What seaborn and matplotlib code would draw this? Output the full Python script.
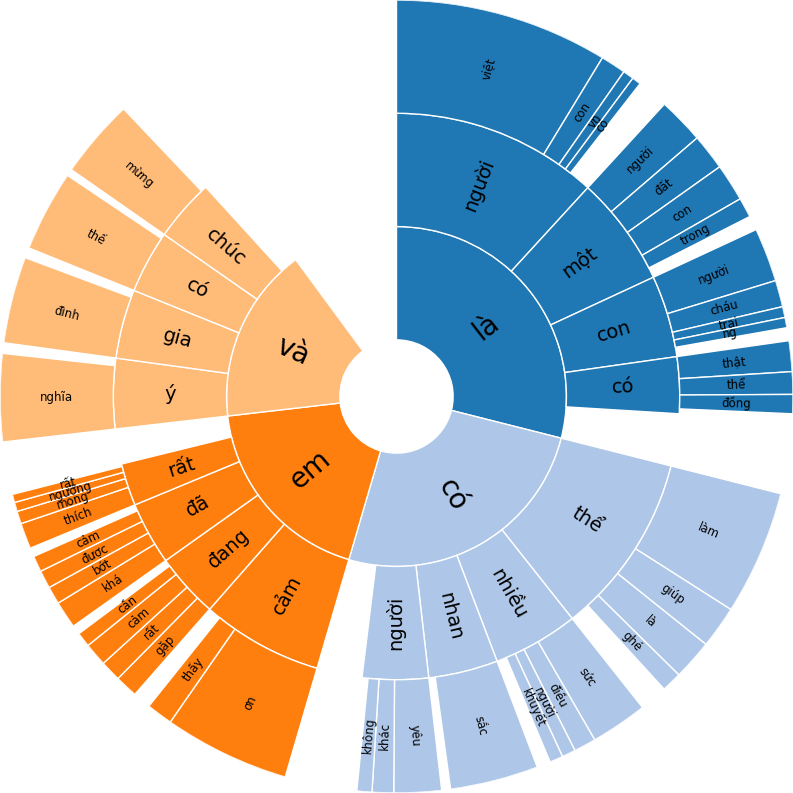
import numpy as np
import matplotlib.pyplot as plt
import seaborn as sns

# Sunburst of word trigrams: first word -> second word -> third word
# Counts, a full circle = TOTAL
TOTAL = 360

first_words = ["là", "có", "em", "và"]
first_counts = [104.2, 92.1, 67.1, 60.2]

second_words = {
    "là": ["người", "một", "con", "có"],
    "có": ["thể", "nhiều", "nhan", "người"],
    "em": ["cảm", "đang", "đã", "rất"],
    "và": ["ý", "gia", "có", "chúc"],
}
second_counts = {
    "là": [42.5, 22.6, 16.8, 11.6],
    "có": [37.45, 17.55, 14.25, 13.55],
    "em": [25.0, 13.3, 12.9, 8.7],
    "và": [14.4, 14.2, 12.9, 12.75],
}

third_words = {
    ("là", "người"): ["việt", "con", "vn", "cô"],
    ("là", "một"): ["người", "đất", "con", "trong"],
    ("là", "con"): ["người", "cháu", "trai", "ng"],
    ("là", "có"): ["thật", "thể", "đồng"],
    ("có", "thể"): ["làm", "giúp", "là", "ghé"],
    ("có", "nhiều"): ["sức", "điều", "người", "khuyết"],
    ("có", "nhan"): ["sắc"],
    ("có", "người"): ["yêu", "khác", "không"],
    ("em", "cảm"): ["ơn", "thấy"],
    ("em", "đang"): ["gặp", "rất", "cảm", "cần"],
    ("em", "đã"): ["khá", "bớt", "được", "cảm"],
    ("em", "rất"): ["thích", "mong", "ngưỡng", "rất"],
    ("và", "ý"): ["nghĩa"],
    ("và", "gia"): ["đình"],
    ("và", "có"): ["thế"],
    ("và", "chúc"): ["mừng"],
}
third_counts = {
    ("là", "người"): [31.3, 3.7, 1.6, 1.3],
    ("là", "một"): [6.8, 5.3, 5.5, 2.9],
    ("là", "con"): [7.9, 3.9, 1.6, 1.5],
    ("là", "có"): [4.5, 3.3, 2.8],
    ("có", "thể"): [18.3, 6.2, 5.9, 2.95],
    ("có", "nhiều"): [8.35, 3.25, 2.0, 1.95],
    ("có", "nhan"): [12.95],
    ("có", "người"): [6.95, 3.15, 2.2],
    ("em", "cảm"): [18.5, 3.85],
    ("em", "đang"): [3.35, 3.05, 3.4, 2.15],
    ("em", "đã"): [4.0, 2.6, 2.65, 2.35],
    ("em", "rất"): [3.8, 1.85, 1.35, 1.2],
    ("và", "ý"): [12.85],
    ("và", "gia"): [12.7],
    ("và", "có"): [11.9],
    ("và", "chúc"): [11.6],
}

# build the tree (label, value, children)
tree = []
for w1, c1 in zip(first_words, first_counts):
    level2 = []
    for w2, c2 in zip(second_words[w1], second_counts[w1]):
        leaves = [(w3, c3, []) for w3, c3 in zip(third_words[(w1, w2)], third_counts[(w1, w2)])]
        level2.append((w2, c2, leaves))
    tree.append((w1, c1, level2))

sns.set_style("white")
palette = sns.color_palette("tab20")
font_sizes = {1: 20, 2: 14, 3: 8.5}

fig = plt.figure(figsize=(7.93, 7.93), dpi=100)
ax = fig.add_axes([0, 0, 1, 1], projection="polar")


def sunburst(nodes, offset=0, level=1, color=None):
    d = 2 * np.pi / TOTAL
    local_offset = offset
    for i, (label, value, children) in enumerate(nodes):
        c = palette[i] if color is None else color
        ax.bar(local_offset * d, 1, width=value * d, bottom=level - 0.5,
               color=c, edgecolor="white", linewidth=1, align="edge")
        x = (local_offset + value / 2) * d
        # testo radiale, girato per restare leggibile
        rotation = (90 + (360 - np.degrees(x) % 180)) % 360
        ax.text(x, level, label, rotation=rotation, ha="center", va="center",
                fontsize=font_sizes[level], color="black")
        sunburst(children, local_offset, level + 1, c)
        local_offset += value


sunburst(tree)

ax.set_theta_zero_location("N")
ax.set_theta_direction(-1)
ax.set_ylim(0, 3.5)
ax.set_axis_off()

plt.savefig("out.png", dpi=100)
